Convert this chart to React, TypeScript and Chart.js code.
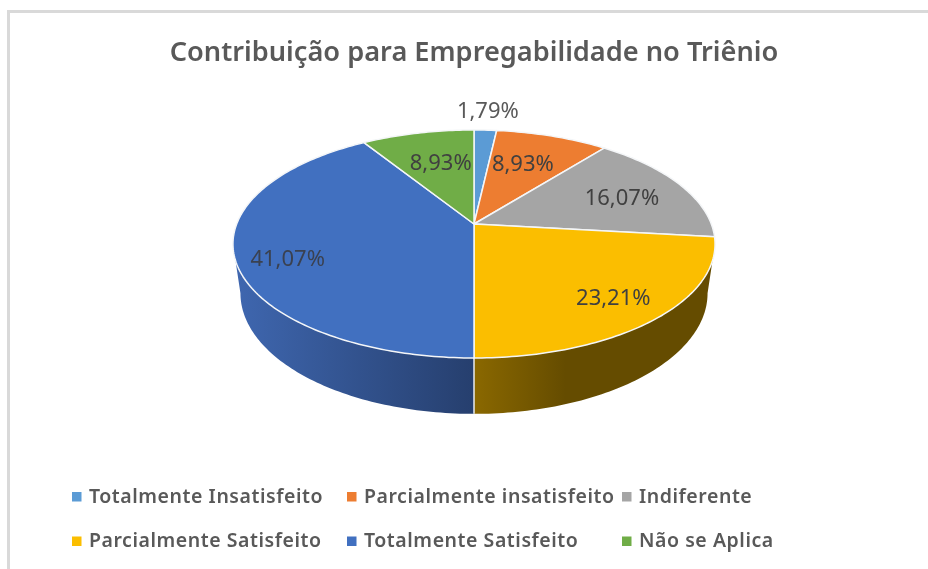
import React, { useEffect, useRef } from "react";
import { Chart, registerables } from "chart.js";

Chart.register(...registerables);

const titleText = "Contribuição para Empregabilidade no Triênio";
const categories = [
  "Totalmente Insatisfeito",
  "Parcialmente insatisfeito",
  "Indiferente",
  "Parcialmente Satisfeito",
  "Totalmente Satisfeito",
  "Não se Aplica",
];
const percentages = [1.79, 8.93, 16.07, 23.21, 41.07, 8.93];
const faceColors = ["#5B9BD5", "#ED7D31", "#A5A5A5", "#FBBE00", "#4170C0", "#70AD47"];
const sideFrom = ["#3A6A96", "#9A5120", "#6B6B6B", "#8A6800", "#3F67B0", "#49702E"];
const sideTo = ["#3A6A96", "#9A5120", "#6B6B6B", "#654C00", "#263F6E", "#49702E"];
const sideStop = [1, 1, 1, 0.38, 1, 1];
const labelFractions = [1.27, 0.65, 0.7, 0.79, 0.8, 0.64];
const labelAngleShifts = [0, -2, 1, 0, -5.3, 2];
const labelColors = ["#595959", "#404040", "#404040", "#404040", "#3A4150", "#404040"];

const K = 0.1754;
const D2R = Math.PI / 180;
const FONT = '"Noto Sans", sans-serif';

type Disk = { a: number; b: number; dy: number };
const topDisk = (r: number): Disk => ({ a: r * 1.771, b: r * (1 - K), dy: 0 });
const baseDisk = (r: number): Disk => ({ a: r * 1.716, b: r * 0.873, dy: 48 });

function project(el: any, deg: number, frac: number, d: Disk): [number, number] {
  const u = Math.sin(deg * D2R) * frac;
  const v = Math.cos(deg * D2R) * frac;
  const w = 1 + K * v;
  return [el.x + (d.a * u) / w, el.y + d.dy - (d.b * v) / w];
}

const solidPie = {
  id: "solidPie",
  beforeDraw(chart: any) {
    const { ctx, width, height } = chart;
    ctx.save();
    ctx.fillStyle = "#ffffff";
    ctx.fillRect(0, 0, width, height);
    ctx.strokeStyle = "#D9D9D9";
    ctx.lineWidth = 3;
    ctx.beginPath();
    ctx.moveTo(width, 11.5);
    ctx.lineTo(8.5, 11.5);
    ctx.lineTo(8.5, height);
    ctx.stroke();
    ctx.restore();
  },
  beforeDatasetsDraw(chart: any) {
    const { ctx } = chart;
    const arcs = chart.getDatasetMeta(0).data as any[];
    const angles = arcs.map((el) => ({
      start: (el.startAngle + Math.PI / 2) / D2R,
      end: (el.endAngle + Math.PI / 2) / D2R,
    }));
    ctx.save();
    ctx.lineJoin = "round";

    arcs.forEach((el, i) => {
      const from = Math.max(angles[i].start, 100.1);
      const to = Math.min(angles[i].end, 259.9);
      if (from >= to) return;
      const top = topDisk(el.outerRadius);
      const base = baseDisk(el.outerRadius);
      const xa = project(el, to, 1, top)[0];
      const xb = project(el, from, 1, top)[0];
      const left = Math.min(xa, xb);
      const right = Math.max(xa, xb);
      const g = ctx.createLinearGradient(left, 0, right, 0);
      if (i === 3) {
        g.addColorStop(0, sideFrom[i]);
        g.addColorStop(sideStop[i], sideTo[i]);
        g.addColorStop(1, sideTo[i]);
      } else {
        g.addColorStop(0, sideFrom[i]);
        g.addColorStop(1, sideTo[i]);
      }
      ctx.beginPath();
      for (let a = from; a <= to; a += 1) {
        const p = project(el, a, 1, top);
        if (a === from) ctx.moveTo(p[0], p[1]);
        else ctx.lineTo(p[0], p[1]);
      }
      const pt = project(el, to, 1, top);
      ctx.lineTo(pt[0], pt[1]);
      for (let a = to; a >= from; a -= 1) {
        const p = project(el, a, 1, base);
        ctx.lineTo(p[0], p[1]);
      }
      const pb = project(el, from, 1, base);
      ctx.lineTo(pb[0], pb[1]);
      ctx.closePath();
      ctx.fillStyle = g;
      ctx.fill();
    });

    // white seam between the front side walls
    arcs.forEach((el, i) => {
      const a = angles[i].start;
      if (a > 100.1 && a < 259.9) {
        const p = project(el, a, 1, topDisk(el.outerRadius));
        const q = project(el, a, 1, baseDisk(el.outerRadius));
        ctx.strokeStyle = "#E8ECF2";
        ctx.lineWidth = 1.5;
        ctx.beginPath();
        ctx.moveTo(p[0], p[1]);
        ctx.lineTo(q[0], q[1]);
        ctx.stroke();
      }
    });

    arcs.forEach((el, i) => {
      const top = topDisk(el.outerRadius);
      ctx.beginPath();
      const c = project(el, 0, 0, top);
      ctx.moveTo(c[0], c[1]);
      const { start, end } = angles[i];
      for (let a = start; a < end; a += 1) {
        const p = project(el, a, 1, top);
        ctx.lineTo(p[0], p[1]);
      }
      const p = project(el, end, 1, top);
      ctx.lineTo(p[0], p[1]);
      ctx.closePath();
      ctx.fillStyle = faceColors[i];
      ctx.fill();
      ctx.strokeStyle = "#F4F6F8";
      ctx.lineWidth = 1.5;
      ctx.stroke();
    });

    ctx.font = `22px ${FONT}`;
    ctx.textAlign = "center";
    ctx.textBaseline = "middle";
    arcs.forEach((el, i) => {
      const mid = (angles[i].start + angles[i].end) / 2 + labelAngleShifts[i];
      const p = project(el, mid, labelFractions[i], topDisk(el.outerRadius));
      ctx.fillStyle = labelColors[i];
      ctx.fillText(percentages[i].toFixed(2).replace(".", ",") + "%", p[0], p[1] + 2);
    });
    ctx.restore();
    return false;
  },
  afterDraw(chart: any) {
    const { ctx } = chart;
    const names: string[] = chart.data.labels;
    const cols = [72, 347, 622];
    const rows = [497, 541.5];
    ctx.save();
    ctx.font = `600 19.5px ${FONT}`;
    (ctx as any).letterSpacing = "0.55px";
    ctx.textAlign = "left";
    ctx.textBaseline = "middle";
    names.forEach((name, i) => {
      const x = cols[i % 3];
      const y = rows[Math.floor(i / 3)];
      ctx.fillStyle = faceColors[i];
      ctx.fillRect(x, y - 5, 9.5, 9.5);
      ctx.fillStyle = "#595959";
      ctx.fillText(name, x + 17, y);
    });
    ctx.restore();
  },
};

export default function App() {
  const ref = useRef<HTMLCanvasElement>(null);
  useEffect(() => {
    if (!ref.current) return;
    const chart = new Chart(ref.current, {
      type: "pie",
      data: {
        labels: categories,
        datasets: [{ data: percentages, backgroundColor: faceColors, borderColor: "#ffffff", borderWidth: 0 }],
      },
      options: {
        responsive: false,
        animation: false,
        layout: { padding: { left: 20, right: 0, top: 0, bottom: 211 } },
        plugins: {
          legend: { display: false },
          tooltip: { enabled: false },
          title: {
            display: true,
            text: titleText,
            color: "#595959",
            font: { family: FONT, size: 27.2, weight: 600 as any, lineHeight: 1.2 },
            padding: { top: 37, bottom: 20.36 },
          },
        },
      },
      plugins: [solidPie as any],
    });
    return () => chart.destroy();
  }, []);
  return (
    <div style={{ position: "fixed", left: 0, top: 0, width: 928, height: 569, background: "#fff" }}>
      <canvas ref={ref} width={928} height={569} style={{ display: "block", filter: "blur(0.45px)" }} />
    </div>
  );
}
